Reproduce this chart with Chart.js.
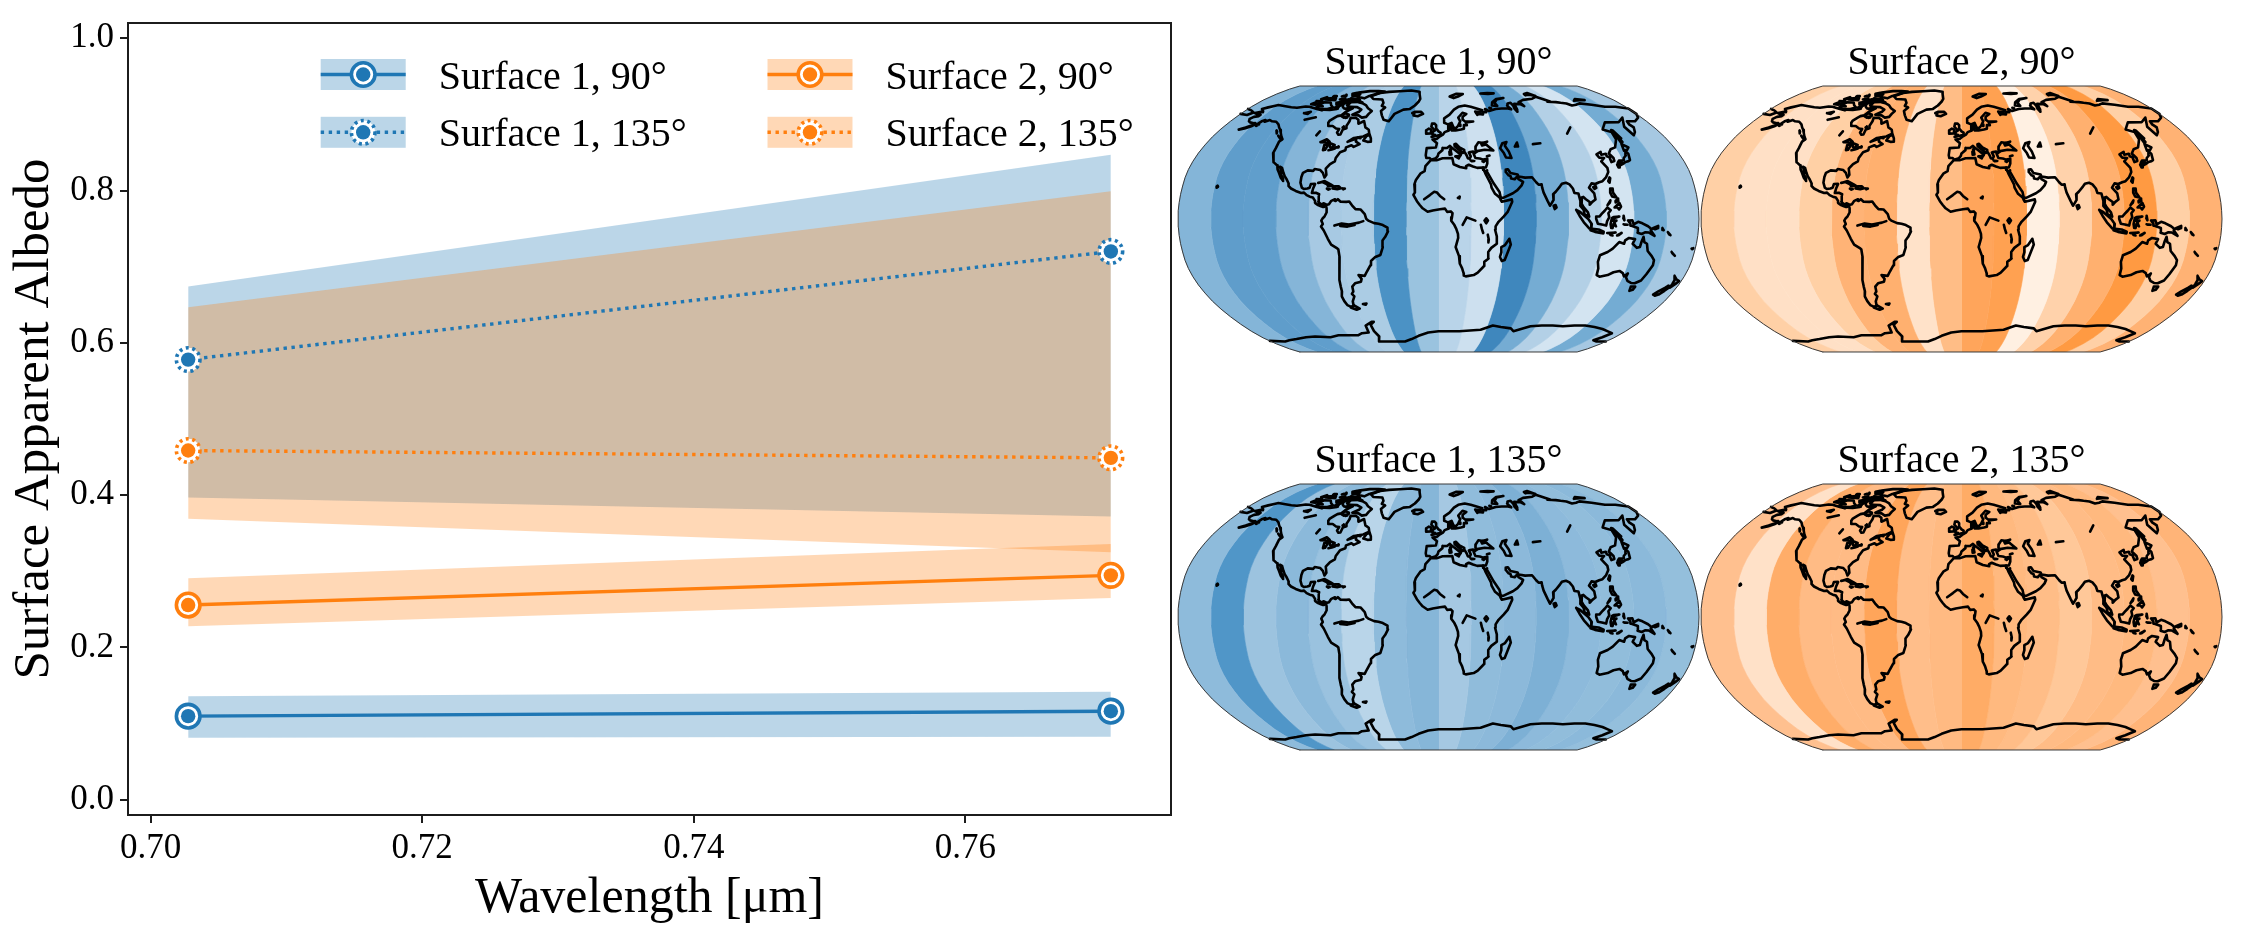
<!DOCTYPE html>
<html>
<head>
<meta charset="utf-8">
<title>Surface Apparent Albedo</title>
<script src="https://cdn.jsdelivr.net/npm/chart.js@4"></script>
<style>
  html, body { margin: 0; padding: 0; background: #fff; width: 2244px; height: 938px; overflow: hidden; }
  canvas { position: absolute; }
</style>
</head>
<body>
<canvas id="albedo" width="1176" height="942" style="left:0;top:-4px"></canvas>
<canvas id="map1" style="left:1175px;top:40px"></canvas>
<canvas id="map2" style="left:1698px;top:40px"></canvas>
<canvas id="map3" style="left:1175px;top:438px"></canvas>
<canvas id="map4" style="left:1698px;top:438px"></canvas>
<script>
// ---- Albedo spectra ----
const wavelengths = [0.70277, 0.7707];
const s1_90_mid = [0.1098, 0.1163];
const s1_90_hi = [0.136, 0.142];
const s1_90_lo = [0.0813, 0.0826];
const s2_90_mid = [0.2557, 0.2947];
const s2_90_hi = [0.291, 0.336];
const s2_90_lo = [0.228, 0.265];
const s1_135_mid = [0.578, 0.72];
const s1_135_hi = [0.674, 0.847];
const s1_135_lo = [0.397, 0.372];
const s2_135_mid = [0.4586, 0.449];
const s2_135_hi = [0.6466, 0.799];
const s2_135_lo = [0.369, 0.325];
const xTicks = [0.70, 0.72, 0.74, 0.76];
const yTicks = [0.0, 0.2, 0.4, 0.6, 0.8, 1.0];

const BLUE = '#1f77b4';
const ORANGE = '#ff7f0e';
const BLUE_BAND = 'rgba(31,119,180,0.3)';
const ORANGE_BAND = 'rgba(255,127,14,0.3)';
const SERIF = '"Liberation Serif", serif';

// ---- Longitudinal albedo slices, west to east ----
const sliceEdges = [-180, -157.5, -135, -112.5, -90, -67.5, -45, -22.5, 0, 22.5, 45, 67.5, 90, 112.5, 135, 157.5, 180];
const map1Colors = ['#84b5d8','#5f9dcb','#609ecc','#85b5d8','#a7c9e3','#abcce4','#4b92c5','#9ac3df','#b9d4e9','#cde0ef','#3f87bd','#75acd3','#b3d0e6','#d3e4f1','#74acd3','#a6c8e2'];
const map2Colors = ['#ffd0a6','#ffe0c6','#ffe0c6','#ffd0a5','#ffb376','#ffb06f','#ffe2c9','#ffbd86','#ffa55b','#ffa151','#fff0e2','#ffd2ab','#ffb06f','#ff9a42','#ffd0a6','#ffb274'];
const map3Colors = ['#8ebbdb','#5096c8','#9cc3df','#8bb9da','#9ac2df','#b9d5e9','#8ebbdb','#86b6d8','#a5c8e2','#90bcdb','#8cb9da','#7db0d5','#8dbadb','#91bddb','#8bb9da','#94bfdc'];
const map4Colors = ['#ffc08f','#ffe1c8','#ffad69','#ffbb85','#ffbb85','#ffa55a','#ffbe8a','#ffba82','#ffac66','#ffb97f','#ffbd87','#ffc899','#ffbc86','#ffb97f','#ffc08f','#ffb478'];

// ---- Robinson projection table (every 5 degrees of latitude) ----
const robLat = [0,5,10,15,20,25,30,35,40,45,50,55,60,65,70,75,80,85,90];
const robX = [1,0.9986,0.9954,0.99,0.9822,0.973,0.96,0.9427,0.9216,0.8962,0.8679,0.835,0.7986,0.7597,0.7186,0.6732,0.6213,0.5722,0.5322];
const robY = [0,0.062,0.124,0.186,0.248,0.31,0.372,0.434,0.4958,0.5571,0.6176,0.6769,0.7346,0.7903,0.8435,0.8936,0.9394,0.9761,1];

function project(lon, lat) {
  const a = Math.min(Math.abs(lat), 89.999);
  const i = Math.floor(a / 5);
  const t = (a - robLat[i]) / 5;
  const xs = robX[i] + (robX[i + 1] - robX[i]) * t;
  const ys = robY[i] + (robY[i + 1] - robY[i]) * t;
  return { x: xs * lon / 180, y: (lat < 0 ? -1 : 1) * ys };
}

// ---- Coastlines as [lon, lat] rings ----
const americas = [[-156.6,71.35],[-160,70.5],[-163,69.6],[-166.7,68.4],[-163,67],[-161.8,66.2],[-164,66.5],[-168,65.6],[-164,64.6],[-161,64.5],[-161,63.5],[-164.5,63],[-166,61.6],[-164,60],[-162,59.3],[-158,58.7],[-157,58.9],[-157.5,57.5],[-161,56],[-164.8,54.6],[-161,55.3],[-157,57],[-154,58.5],[-153,60],[-151,60.9],[-150,59.7],[-147,60.8],[-144,60],[-140,59.7],[-136,58],[-133,56],[-130.5,54.5],[-128,52.5],[-125,50],[-123,48.5],[-124.5,47],[-124,43],[-124,40],[-122.5,37.5],[-120.5,34.5],[-117.1,32.5],[-115.8,30],[-114.2,28],[-112,25],[-109.9,23],[-110.3,24.5],[-112,26.5],[-113,29],[-114.8,31.7],[-113,31],[-111,28],[-109.5,26],[-108,24.5],[-105.7,21.5],[-105.5,20],[-103.5,18.5],[-100,17],[-96,15.8],[-94,16],[-92,14.5],[-89,13.3],[-87.5,13],[-85.8,11],[-85.7,9.8],[-83.5,8.4],[-81.5,7.7],[-80,7.3],[-79.5,8.9],[-78,8],[-77.5,6.5],[-77.4,4],[-78.8,1.5],[-80,0.5],[-81,-1],[-80,-3],[-81.3,-4.5],[-79.5,-7],[-77,-12],[-75,-15.5],[-71,-17.8],[-70.3,-18.5],[-70,-23],[-71.5,-30],[-71.7,-33],[-73.5,-37],[-73.7,-41],[-74,-44],[-75.5,-47],[-75,-50],[-74,-52.5],[-71,-53.8],[-69,-52.6],[-68.3,-50.1],[-65.7,-47],[-67,-45.5],[-65.3,-44],[-65,-41],[-62.3,-39],[-57.6,-38],[-56.7,-36.3],[-58.4,-34],[-54,-34.5],[-52,-32],[-48.7,-28],[-48,-25.5],[-44.7,-23],[-41,-21.8],[-39,-17],[-39,-13],[-37,-10.8],[-35,-7.5],[-35.3,-5.3],[-38.5,-3.7],[-41.5,-2.9],[-44.5,-2.5],[-48.5,-1],[-50,0.2],[-51,3],[-54,5.8],[-57.5,6],[-60,8.3],[-62,10.6],[-64,10.4],[-68,10.5],[-70,12],[-71.5,11],[-72,12],[-74.5,11],[-76,9],[-77.3,8.6],[-79.5,9.5],[-81.5,8.8],[-83.5,10.5],[-83.5,14],[-83.3,15],[-85.7,15.9],[-88.5,15.8],[-88,18.5],[-87,21.3],[-90,21.2],[-90.5,19],[-92,18.5],[-94.5,18.2],[-96,19],[-97.5,22],[-97.5,25.5],[-97,28],[-94,29.5],[-90,29.2],[-89.2,30.3],[-85,29.7],[-82.8,28],[-81,25.2],[-80,26.8],[-81.3,30.5],[-79,33.3],[-76,35],[-76,37],[-74,40.5],[-70.5,41.7],[-70.7,43.5],[-67,44.8],[-65,43.8],[-61,45.5],[-64.5,47],[-65,49],[-71,46.9],[-67,49.3],[-60,50.2],[-56,52],[-57.5,54.5],[-61,56],[-64.5,60.2],[-68,58.5],[-70,61],[-73,62.3],[-77.8,62.4],[-77,60],[-77.5,57],[-76.5,55.5],[-79,54.7],[-79,51.5],[-80.5,51.3],[-82.5,52.7],[-82.2,55],[-85,55.3],[-89,56.9],[-92.5,57],[-94.5,59],[-94.5,60.5],[-92,62.5],[-90.5,63.5],[-87.5,64],[-86,66],[-84,67.5],[-81.5,69],[-85,69.8],[-88,68.5],[-90,69],[-92,70],[-94,72],[-96,70.5],[-96,68.5],[-102,67.8],[-108,68],[-109,67.5],[-115,68.5],[-124,70],[-128,70.2],[-135,69.3],[-141,69.7],[-148,70.4],[-156.6,71.35]];
const arcticCanada = [
  [[-64.5,63],[-68,62.5],[-72,64],[-78,64.5],[-73.5,66.5],[-72.5,68],[-78,69.8],[-85,70],[-89,71],[-88,73.5],[-80,73.7],[-76,72.8],[-71,71.3],[-67,69],[-62,67],[-63.5,65],[-64.5,63]],
  [[-105,68.5],[-113,68.6],[-117,69.7],[-117,70.5],[-112,70.5],[-118.5,71.5],[-115,73.3],[-108,73.2],[-104.5,71],[-101,69.6],[-105,68.5]],
  [[-121,71.5],[-125.5,71.9],[-123,73.5],[-124,74.3],[-118,74.2],[-116,73],[-121,71.5]],
  [[-62,82.5],[-70,83],[-80,83],[-91,81.5],[-87,80],[-89,78.2],[-84,77.3],[-78,76.5],[-75,78.5],[-68,80.5],[-62,82.5]],
  [[-80,74.7],[-92,74.7],[-92,76.6],[-82,75.7],[-80,74.7]],
  [[-87,79.3],[-93,78.3],[-96,80.2],[-92,81.2],[-87,79.3]],
  [[-106,75],[-117,75.5],[-114,76.5],[-108,76.7],[-106,75]],
  [[-94,72],[-100,71.5],[-102,73],[-96,74],[-93,73],[-94,72]],
  [[-91,72.5],[-95,73.5],[-92,74.2],[-90,73.8],[-91,72.5]],
  [[-80.5,63.7],[-84,62.5],[-87,63.5],[-85,65.5],[-81,64.5],[-80.5,63.7]],
  [[-97,75],[-102,75.5],[-98,76.6],[-97,75]],
  [[-116,76.5],[-122,75.8],[-119,77.5],[-116,76.5]],
  [[-95,74.9],[-92.5,75],[-93.5,75.6],[-95,74.9]],
  [[-99,69.5],[-95.5,68.8],[-97,70],[-99,69.5]],
  [[-83.5,62.9],[-81,62.6],[-82.5,62.3],[-83.5,62.9]],
  [[-80,73.4],[-77,72.9],[-76.5,73.4],[-80,73.4]],
  [[-100,78.5],[-104,78],[-101,79.3],[-100,78.5]],
  [[-110,78.3],[-113,77.8],[-113,78.4],[-110,78.3]],
  [[-79.5,56.5],[-79,56],[-80,55.9],[-79.5,56.5]]
];
const atlanticIslands = [
  [[-73,78.2],[-66,81],[-57,82.2],[-45,82.8],[-32,83.6],[-22,82.3],[-21,80],[-19,76],[-20,74],[-23,71],[-27,68.5],[-33,68],[-40,65],[-43,60],[-48,61],[-51,64],[-53.5,67],[-51,69.5],[-55,70.7],[-55,73],[-58,75.5],[-68,76],[-73,78.2]],
  [[-24,65.5],[-22,66.4],[-16,66.4],[-14,65],[-18.7,63.4],[-22.5,63.9],[-22,65],[-24,65.5]],
  [[-59,47.7],[-55.5,46.9],[-53,47],[-53.5,49],[-55.5,51.5],[-57.5,50.5],[-59,47.7]],
  [[-64,49.5],[-61.8,49.2],[-62.5,49.8],[-64,49.5]],
  [[-128.3,50.7],[-123.5,48.4],[-125,48.8],[-128.3,50.7]],
  [[-133,54],[-131,52.2],[-132,53.5],[-133,54]],
  [[-154.5,57.7],[-152.5,58],[-153.5,57],[-154.5,57.7]],
  [[-84.9,21.9],[-80.5,23],[-76,21],[-74.2,20.1],[-77.7,19.9],[-78.5,21],[-82,22.4],[-84.9,21.9]],
  [[-74.4,18.5],[-73,19.9],[-70,19.8],[-68.4,18.6],[-71,18],[-74.4,18.5]],
  [[-78.3,18.4],[-76.3,18.1],[-77.2,17.8],[-78.3,18.4]],
  [[-67.2,18.5],[-65.7,18.4],[-66.8,18],[-67.2,18.5]],
  [[-61,-51.8],[-58,-51.5],[-59,-52.3],[-61,-51.8]],
  [[-68.6,-52.7],[-65,-54.7],[-68,-55.5],[-72,-54],[-68.6,-52.7]],
  [[-156,19.7],[-155.5,20.2],[-155,19.6],[-155.6,19],[-156,19.7]],
  [[-5.5,50],[1.3,51.2],[1.7,52.7],[0,53.5],[-1.5,55],[-2,57.5],[-3.5,58.6],[-5.5,58.5],[-6,56.5],[-3,54],[-4.5,53.3],[-5,51.7],[-3,51.3],[-5.5,50]],
  [[-10,52],[-6.2,52.2],[-6,54.6],[-8,55.2],[-10,54.2],[-10,52]],
  [[12,78],[20,80.3],[27,80],[21,78],[16,76.7],[12,78]],
  [[52,71],[57,70.7],[56,73],[60,75.5],[68.5,76.8],[60,76],[54,73.5],[52,71]],
  [[48.5,69.3],[50,69],[49,68.7],[48.5,69.3]],
  [[47,80.5],[55,81],[62,80.7],[55,80],[47,80.5]],
  [[95,79],[100,79.5],[105,78.5],[100,81],[95,80],[95,79]],
  [[138,74.5],[145,75],[150,75],[142,76],[138,74.5]],
  [[11.3,55.7],[12.5,56],[12.2,55.2],[11.3,55.7]],
  [[18.2,57],[18.9,57.9],[18.4,57.4],[18.2,57]]
];
const eurasia = [[-9,37],[-9.5,38.7],[-9,43],[-2,43.4],[-1.2,46],[-4.7,48.4],[-1.5,48.7],[1.5,50.5],[3.5,51.4],[5,53],[8.5,54],[8.2,57],[10.6,57.7],[10,55],[11,54],[14,54],[18.5,54.7],[21,55.2],[21.5,57.5],[24,57.5],[23.5,59.2],[30,59.9],[23,59.9],[21.3,61],[21.5,63],[25.3,65],[22,65.8],[17.5,62.5],[18.8,60],[16.5,57],[14.3,55.5],[12.8,55.5],[11.2,59],[8,58],[5.3,59],[5,62],[10,64.5],[14.5,68],[19,70],[25.5,71],[31,70],[41,67.5],[38.5,66.2],[34,66.7],[35,64.3],[37,65],[40,64.6],[41,66.2],[44,66.2],[44,68.5],[47,67],[54,68.5],[60,68.8],[65,69],[68.5,68.2],[67,70],[66.8,71],[68.5,72.5],[72,73],[72.7,71],[72,68.5],[73,66.5],[74,68],[74.5,71],[75,72.3],[78,72],[80.5,72],[83,70.5],[82,72.5],[80.5,73.5],[87,75.2],[98,76.2],[104,77.7],[113,74],[110,73.8],[118,73.5],[122,73],[127,72.5],[130,71],[135,71.6],[140,72.6],[150,71.5],[160,70],[170,70],[180,68.8],[180,65],[177,62.5],[170,60],[163,60],[162,58],[163,56],[160,53],[156.7,51],[155.7,56.5],[163,62.5],[155,59.4],[143,59.3],[135.5,54.7],[141,53],[140,48.5],[135,43.5],[130.7,42.3],[127.5,39.7],[129.4,37],[129,35.2],[126.5,34.5],[126.7,37.5],[125,38],[125.2,39.6],[121.5,39],[122,40.7],[118,39.2],[119,37.2],[122.5,37],[119.3,35],[122,31],[121.7,28.5],[119,25.2],[116,22.9],[113.5,22.3],[110.5,21.2],[108,21.6],[105.7,19],[108.8,15.5],[109.2,11.8],[106.8,10.4],[105,8.7],[105,10.3],[102.5,12],[100.9,13.4],[99.9,13],[99.3,9.3],[100.5,7.2],[103.4,4],[104.2,1.4],[101,3],[100.4,5.7],[98.3,8],[98.6,11],[97.7,15.5],[95,15.8],[94.3,18.5],[92.3,21],[90,22],[87,21.3],[85.5,19.8],[82.2,16.7],[80,15],[80,11.5],[78,8.9],[77.3,8.1],[75.8,11],[73.5,16],[72.8,19.2],[72.7,21],[70.5,20.8],[69,22.3],[66.5,25.3],[61.5,25.1],[57,25.8],[56.5,27],[51.5,27.9],[50,30.2],[48.5,30],[48.2,28.5],[50,26.5],[51.3,26],[51.5,24.5],[54,24.1],[56.3,26],[56.7,24.2],[59.8,22.5],[58.5,20.4],[55.3,17.5],[52,15.6],[45,12.8],[43.4,12.7],[42.7,16.4],[39,21.5],[35.2,28],[34.9,29.5],[34.3,27.8],[32.6,29.9],[32.3,31.2],[34.3,31.3],[35.5,33.5],[36,36.6],[33,36],[30.5,36.7],[27.3,37],[26.3,39.4],[29,41],[26.2,40.3],[26,40.9],[23.8,40.7],[22.8,40.4],[24,38],[23,36.5],[21.7,36.9],[21,38.5],[19.4,41],[19.5,42],[16,43.5],[13.6,45.7],[12.3,45.4],[12.4,44.2],[16,41.8],[18.4,40.1],[16.9,40.4],[16.6,38.8],[15.7,38],[16,39.5],[12.2,42],[10.5,43],[8.8,44.4],[6.5,43.1],[3.1,43],[3,41.8],[0,39.8],[-0.5,38.3],[-2,36.8],[-5.4,36],[-6.5,37],[-9,37]];
const farEastTip = [[-180,68.5],[-175,67.5],[-170,66],[-173,64.3],[-180,65]];
const blackSea = [[29,41.2],[35,42],[41.5,41.6],[37.5,44.7],[36.6,45.3],[33.5,44.6],[33,46],[38,47],[35,46.2],[31,46.6],[28.5,44],[28,41.8],[29,41.2]];
const africa = [[32.3,31.2],[28,31],[25,31.8],[22,32.9],[20,32],[20,30.8],[15.5,31.5],[11,33.2],[10.2,37],[3,36.8],[-1,35.7],[-5.5,35.8],[-9.5,32],[-10,29],[-13,27.5],[-16,23.7],[-17,21],[-16.5,16],[-17.5,14.7],[-15,10.8],[-13,8.5],[-11,6.5],[-7.5,4.4],[-4,5.2],[1,5.9],[4.5,6.3],[6,4.3],[8.5,4.6],[9.7,3.5],[9.3,1],[8.8,-1],[11,-3.7],[12.3,-6],[13.5,-9],[13.7,-11.5],[12,-17],[14.5,-22.5],[15.2,-27],[17,-29.9],[18.3,-33],[18.5,-34.3],[20,-34.8],[25.7,-34],[28.5,-32.5],[32.7,-28.5],[32.6,-26],[35.5,-24],[35,-20],[37,-17.5],[40.7,-15],[40.5,-10.5],[39.2,-6.5],[39.5,-4.5],[41.5,-1.7],[45,1.5],[48,4.5],[51.2,10.5],[51,11.9],[44,10.5],[43.3,11.5],[42.6,13],[39.5,15.3],[37.3,19],[37,21],[35.5,23.8],[33.8,27],[32.6,29.9],[32.3,31.2]];
const asiaPacificIslands = [
  [[12.5,38],[15.6,38.2],[15,36.7],[12.5,38]],
  [[8.3,39],[9.7,39.2],[9.3,41],[8.2,40.8],[8.3,39]],
  [[8.7,42],[9.5,43],[9.4,41.5],[8.7,42]],
  [[23.6,35.5],[26.3,35.2],[24.5,35],[23.6,35.5]],
  [[32.3,35],[34.5,35.5],[33,34.6],[32.3,35]],
  [[49.3,-12],[50.5,-15.5],[47,-24.9],[45,-25.5],[43.5,-23],[44.3,-20],[44,-17],[46.5,-15.8],[49.3,-12]],
  [[79.8,8],[81.2,8.5],[81.8,7],[80.5,6],[79.8,8]],
  [[108.7,19.3],[110.5,20.1],[110.8,18.8],[109.5,18.2],[108.7,19.3]],
  [[120.1,23],[121.5,25.2],[121.9,24.8],[120.8,22],[120.1,23]],
  [[130.9,34],[132.5,35.4],[136,35.6],[137,37],[139.5,38.5],[140,40],[141.3,41.3],[142,39.5],[140.8,35.7],[139,35],[136.8,34.5],[135,33.6],[133,34.2],[130.9,34]],
  [[130,33],[131.8,33.5],[131,31.2],[130.2,31.3],[130,33]],
  [[132.5,33.8],[134.5,34.2],[134,33.3],[132.8,32.8],[132.5,33.8]],
  [[140.2,41.5],[141.5,45.4],[145.2,43.5],[143,42],[140.2,41.5]],
  [[142,46],[143.5,46.8],[143,49.5],[144.5,49],[143,54],[142,54.3],[142,50],[142,46]],
  [[120.5,18.5],[122.2,18.4],[122,16],[124,13],[121,13.7],[120,16],[120.5,18.5]],
  [[122,7],[125.5,9.8],[126.5,7.5],[125,5.8],[124,7],[122,7]],
  [[123,10],[125,11],[125,12.4],[123,11],[123,10]],
  [[117.2,8.4],[119.5,11.3],[119,10],[117.2,8.4]],
  [[109,1.5],[111.2,1.5],[113,3.2],[115,5],[117,7],[119.2,5.3],[117.5,3.5],[118,1],[116.5,-1.5],[116,-4],[113,-3.3],[110.2,-2.9],[109,0],[109,1.5]],
  [[95.3,5.5],[98,4.3],[103.5,0],[106,-3],[105.8,-5.8],[104.5,-5.8],[100.5,-2],[97.5,2],[95.3,5.5]],
  [[105.3,-6.8],[106.5,-6],[110.9,-6.4],[114.5,-7.7],[114.4,-8.7],[108.5,-7.8],[105.3,-6.8]],
  [[119.5,-5.4],[119,-3],[119.8,0.5],[121,1.2],[125,1.5],[121,0.4],[120.2,-1],[123,-1],[121.5,-2],[122.8,-4.5],[121,-3],[120.5,-5.5],[119.5,-5.4]],
  [[131,-0.9],[134,-0.8],[135,-3.3],[138,-1.7],[141,-2.6],[145,-4.4],[147.7,-6.2],[147,-6.8],[150,-10.2],[146,-8.2],[143.5,-8],[141,-9.1],[138,-8.3],[138,-5.5],[133,-4],[132.7,-2.8],[131,-0.9]],
  [[148.4,-5.6],[152,-4.2],[152,-5.5],[150,-6.2],[148.4,-5.6]],
  [[124,-10],[127,-8.4],[125,-9.8],[124,-10]],
  [[117,-8.5],[122.8,-8.2],[119,-8.8],[117,-8.5]],
  [[119.2,-9.5],[120.8,-10],[120,-9.9],[119.2,-9.5]],
  [[128,2],[128.5,-0.8],[127.7,0.5],[128,2]],
  [[128,-3.2],[130.8,-3.5],[129,-3.5],[128,-3.2]],
  [[155,-5.5],[156,-6.8],[155.5,-6.6],[155,-5.5]],
  [[159,-8],[161,-9.8],[160,-9.3],[159,-8]],
  [[114,-22],[113.5,-26],[115,-30],[115.5,-34],[118,-35],[123.5,-34],[127,-32.3],[131,-31.5],[134,-32.8],[135.8,-34.8],[137.8,-33],[137.5,-35.2],[140,-37.5],[143.5,-38.8],[146.4,-39],[150,-37.3],[151.5,-33.5],[153.5,-28],[153,-25],[150.7,-22.5],[147,-19.4],[145.5,-15],[143.5,-14],[142.5,-10.8],[141.6,-13.5],[141,-17],[139,-17.5],[135.5,-15],[136.8,-12.2],[132.5,-11.5],[130,-13],[129.5,-15],[126,-14],[122.2,-18],[119,-20],[114,-22]],
  [[145,-41],[148.3,-41],[148,-43],[146,-43.6],[145,-41]],
  [[172.7,-34.5],[175.5,-36.5],[178.5,-37.7],[177,-39.5],[175,-41.6],[174.8,-39.5],[174.7,-37.3],[172.7,-34.5]],
  [[172.7,-40.5],[174.3,-41.7],[172.8,-43.6],[170.6,-45.9],[168.4,-46.6],[166.5,-46],[168.5,-44],[171.5,-41.8],[172.7,-40.5]],
  [[164,-20],[167,-22.3],[165,-21],[164,-20]],
  [[177.5,-18],[178.6,-17.7],[178,-18.3],[177.5,-18]]
];
const antarctica = [[-180,-77.5],[-165,-78],[-158,-77],[-148,-76],[-135,-74.5],[-125,-74],[-110,-74.5],[-100,-73],[-90,-73],[-80,-73],[-75,-71.5],[-68,-71],[-67,-66],[-60,-63.5],[-58,-63.5],[-62,-65.5],[-62,-70],[-60,-74],[-64,-78],[-45,-78],[-36,-78],[-28,-76],[-20,-73.5],[-10,-71],[0,-70],[10,-70],[20,-70],[30,-69.5],[40,-69],[50,-66],[58,-67],[68,-68],[72,-70],[78,-68.5],[85,-66.5],[95,-66],[105,-66],[115,-66.5],[125,-66],[135,-66],[145,-67],[155,-68.5],[165,-70.5],[170,-71.5],[167,-74.5],[164,-77],[170,-78],[180,-78]];
const inlandWaters = [
  [[47,43],[49.5,46],[53,46.8],[51,44.5],[53,41],[54,37],[50,37.3],[49,40],[47,43]],
  [[58.5,44],[61,46.5],[61,44],[58.5,44]],
  [[73,45.5],[79,46]],
  [[104,52],[110,56]],
  [[-117,61],[-109,62.7]],
  [[-123,65.5],[-118,66.5],[-119,65],[-123,65.5]],
  [[-98,51],[-97,53.5]],
  [[-92,46.7],[-88,48.5],[-85,47],[-87,46.5],[-92,46.7]],
  [[-87.5,41.8],[-88,45],[-85,46],[-86,42],[-87.5,41.8]],
  [[-84,46],[-80,45],[-82,43],[-83.5,44],[-84,46]],
  [[-83.3,41.7],[-79,42.8],[-81,42.2],[-83.3,41.7]],
  [[-79.5,43.3],[-76.5,44],[-76.5,43.4],[-79.5,43.3]],
  [[-72,-4],[-67,-2.8],[-62,-3.4],[-60,-3],[-55,-2.2],[-52,-1.3]],
  [[-68,-4.2],[-63,-4.6],[-58,-3.6]],
  [[-10,12],[-6,14.5],[-3,16.5],[-1,16],[1,14],[4,12]],
  [[13.5,12.8],[14.8,13.5],[14.5,12.5],[13.5,12.8]],
  [[16.7,-3.6],[19.5,1],[25.5,-1]],
  [[31.8,-1],[33,0.4],[34.2,-1],[33,-2.6],[31.8,-1]],
  [[29.3,-3.5],[30,-6],[31,-8.5]],
  [[34.2,-9.5],[35,-12.5],[34.8,-14.2]],
  [[36,38],[38,38.5]]
];
const allCoasts = [americas, ...arcticCanada, ...atlanticIslands, eurasia, farEastTip, blackSea, africa, ...asiaPacificIslands, antarctica, ...inlandWaters];

// Steps along a meridian used to trace slice outlines and the globe edge
const meridianLats = [-90,-85,-80,-75,-70,-65,-60,-55,-50,-45,-40,-35,-30,-25,-20,-15,-10,-5,0,5,10,15,20,25,30,35,40,45,50,55,60,65,70,75,80,85,90];

function slicePolygon(west, east) {
  const up = meridianLats.map(lat => project(west, lat));
  const down = meridianLats.slice().reverse().map(lat => project(east, lat));
  return [...up, ...down, up[0]];
}

function buildMap(canvasId, titleText, colors) {
  const canvas = document.getElementById(canvasId);
  canvas.width = 527;
  canvas.height = 315;
  const datasets = [];
  const polyline = (points, color, width) => ({
    data: points,
    showLine: true, pointRadius: 0, borderColor: color, borderWidth: width,
    borderJoinStyle: 'round', borderCapStyle: 'round', tension: 0, fill: false, clip: false
  });
  // First dataset is painted last: outline and coasts lie over the slices
  datasets.push(polyline(slicePolygon(-180, 180), '#3a3a3a', 1));
  allCoasts.forEach(ring => datasets.push(polyline(ring.map(([lon, lat]) => project(lon, lat)), '#000', 2.6)));
  colors.forEach((color, i) => {
    datasets.push({
      data: slicePolygon(sliceEdges[i], sliceEdges[i + 1]),
      showLine: true, pointRadius: 0, tension: 0,
      borderColor: color, borderWidth: 0.6,
      backgroundColor: color, fill: 'shape'
    });
  });
  new Chart(canvas, {
    type: 'scatter',
    data: { datasets },
    options: {
      responsive: false, animation: false, devicePixelRatio: 1,
      layout: { padding: 3, autoPadding: false },
      events: [],
      scales: {
        x: { type: 'linear', min: -1, max: 1, display: false },
        y: { type: 'linear', min: -1, max: 1, display: false }
      },
      plugins: {
        legend: { display: false },
        tooltip: { enabled: false },
        title: {
          display: true, text: titleText, color: '#000',
          font: { family: SERIF, size: 40, weight: 'normal', lineHeight: 1 },
          padding: { top: 0, bottom: 3 }
        }
      }
    }
  });
}

// ---- Albedo panel ----
const xy = ys => wavelengths.map((w, i) => ({ x: w, y: ys[i] }));
const bandPair = (hi, lo, color, order) => [
  { data: xy(hi), showLine: true, borderWidth: 0, pointRadius: 0, backgroundColor: color, fill: '+1', order },
  { data: xy(lo), showLine: true, borderWidth: 0, pointRadius: 0, fill: false, order }
];
const trace = (mid, color, dotted, order) => [
  { data: xy(mid), showLine: false, pointRadius: 7.2, pointBorderWidth: 0, pointBackgroundColor: color, order },
  { data: xy(mid), showLine: false, pointRadius: 11.8, pointBorderWidth: 3.6, pointBorderColor: color, pointBackgroundColor: '#fff', ringDash: dotted ? [3, 3.6] : null, order: order + 0.1 },
  { data: xy(mid), showLine: true, borderColor: color, borderWidth: 3.4, borderDash: dotted ? [3.4, 4.6] : [], pointRadius: 0, order: order + 0.2 }
];

const ringDashPlugin = {
  id: 'ringDash',
  beforeDatasetDraw(chart, args) {
    const dash = chart.data.datasets[args.index].ringDash;
    if (dash) chart.ctx.setLineDash(dash);
  },
  afterDatasetDraw(chart) { chart.ctx.setLineDash([]); }
};

const framePlugin = {
  id: 'frame',
  afterDraw(chart) {
    const { left, top, right, bottom } = chart.chartArea;
    const ctx = chart.ctx;
    ctx.save();
    ctx.strokeStyle = '#1c1c1c';
    ctx.lineWidth = 2;
    ctx.strokeRect(left, top, right - left, bottom - top);
    ctx.restore();
  }
};

const legendEntries = [
  { label: 'Surface 1, 90\u00b0', color: BLUE, band: BLUE_BAND, dotted: false, col: 0, row: 0 },
  { label: 'Surface 1, 135\u00b0', color: BLUE, band: BLUE_BAND, dotted: true, col: 0, row: 1 },
  { label: 'Surface 2, 90\u00b0', color: ORANGE, band: ORANGE_BAND, dotted: false, col: 1, row: 0 },
  { label: 'Surface 2, 135\u00b0', color: ORANGE, band: ORANGE_BAND, dotted: true, col: 1, row: 1 }
];

const legendPlugin = {
  id: 'pairedLegend',
  afterDraw(chart) {
    const ctx = chart.ctx;
    const colX = [320.7, 767.5];
    const rowY = [63, 120.8];
    const keyW = 85, keyH = 31;
    legendEntries.forEach(e => {
      const x = colX[e.col], y = rowY[e.row];
      const cx = x + keyW / 2, cy = y + keyH / 2;
      ctx.save();
      ctx.fillStyle = e.band;
      ctx.fillRect(x, y, keyW, keyH);
      ctx.strokeStyle = e.color;
      ctx.lineWidth = 3.4;
      ctx.setLineDash(e.dotted ? [3.4, 4.6] : []);
      ctx.beginPath(); ctx.moveTo(x, cy); ctx.lineTo(x + keyW, cy); ctx.stroke();
      ctx.setLineDash(e.dotted ? [3, 3.6] : []);
      ctx.fillStyle = '#fff';
      ctx.lineWidth = 3.6;
      ctx.beginPath(); ctx.arc(cx, cy, 11.8, 0, Math.PI * 2); ctx.fill(); ctx.stroke();
      ctx.setLineDash([]);
      ctx.fillStyle = e.color;
      ctx.beginPath(); ctx.arc(cx, cy, 7.2, 0, Math.PI * 2); ctx.fill();
      ctx.fillStyle = '#000';
      ctx.font = '40px ' + SERIF;
      ctx.textAlign = 'left';
      ctx.textBaseline = 'alphabetic';
      ctx.fillText(e.label, x + keyW + 33, cy + 14);
      ctx.restore();
    });
  }
};

new Chart(document.getElementById('albedo'), {
  type: 'scatter',
  data: {
    datasets: [
      ...trace(s2_135_mid, ORANGE, true, 1),
      ...trace(s1_135_mid, BLUE, true, 2),
      ...trace(s2_90_mid, ORANGE, false, 3),
      ...trace(s1_90_mid, BLUE, false, 4),
      ...bandPair(s2_135_hi, s2_135_lo, ORANGE_BAND, 10),
      ...bandPair(s1_135_hi, s1_135_lo, BLUE_BAND, 11),
      ...bandPair(s2_90_hi, s2_90_lo, ORANGE_BAND, 12),
      ...bandPair(s1_90_hi, s1_90_lo, BLUE_BAND, 13)
    ]
  },
  options: {
    responsive: false, animation: false, devicePixelRatio: 1,
    layout: { padding: { left: 0, right: 5, top: 18, bottom: 0 }, autoPadding: false },
    events: [],
    scales: {
      x: {
        type: 'linear', min: 0.69834, max: 0.77513,
        afterBuildTicks: s => { s.ticks = xTicks.map(v => ({ value: v })); },
        afterFit: s => { s.height = 123; },
        grid: { display: true, drawOnChartArea: false, drawTicks: true, tickLength: 8, color: '#1c1c1c', lineWidth: 2 },
        border: { display: false },
        ticks: { color: '#000', padding: 5, maxRotation: 0, font: { family: SERIF, size: 35 }, callback: v => v.toFixed(2) },
        title: { display: true, text: 'Wavelength [\u03bcm]', color: '#000', font: { family: SERIF, size: 50, weight: 'normal' }, padding: { top: 0, bottom: 9 } }
      },
      y: {
        type: 'linear', min: -0.02, max: 1.02,
        afterBuildTicks: s => { s.ticks = yTicks.map(v => ({ value: v })); },
        afterFit: s => { s.width = 128; },
        grid: { display: true, drawOnChartArea: false, drawTicks: true, tickLength: 8, color: '#1c1c1c', lineWidth: 2 },
        border: { display: false },
        ticks: { color: '#000', padding: 6, font: { family: SERIF, size: 35 }, callback: v => v.toFixed(1) },
        title: { display: true, text: 'Surface Apparent Albedo', color: '#000', font: { family: SERIF, size: 51, weight: 'normal' }, padding: { top: 4, bottom: 0 } }
      }
    },
    plugins: { legend: { display: false }, tooltip: { enabled: false }, title: { display: false } }
  },
  plugins: [ringDashPlugin, framePlugin, legendPlugin]
});

buildMap('map1', 'Surface 1, 90\u00b0', map1Colors);
buildMap('map2', 'Surface 2, 90\u00b0', map2Colors);
buildMap('map3', 'Surface 1, 135\u00b0', map3Colors);
buildMap('map4', 'Surface 2, 135\u00b0', map4Colors);
</script>
</body>
</html>
